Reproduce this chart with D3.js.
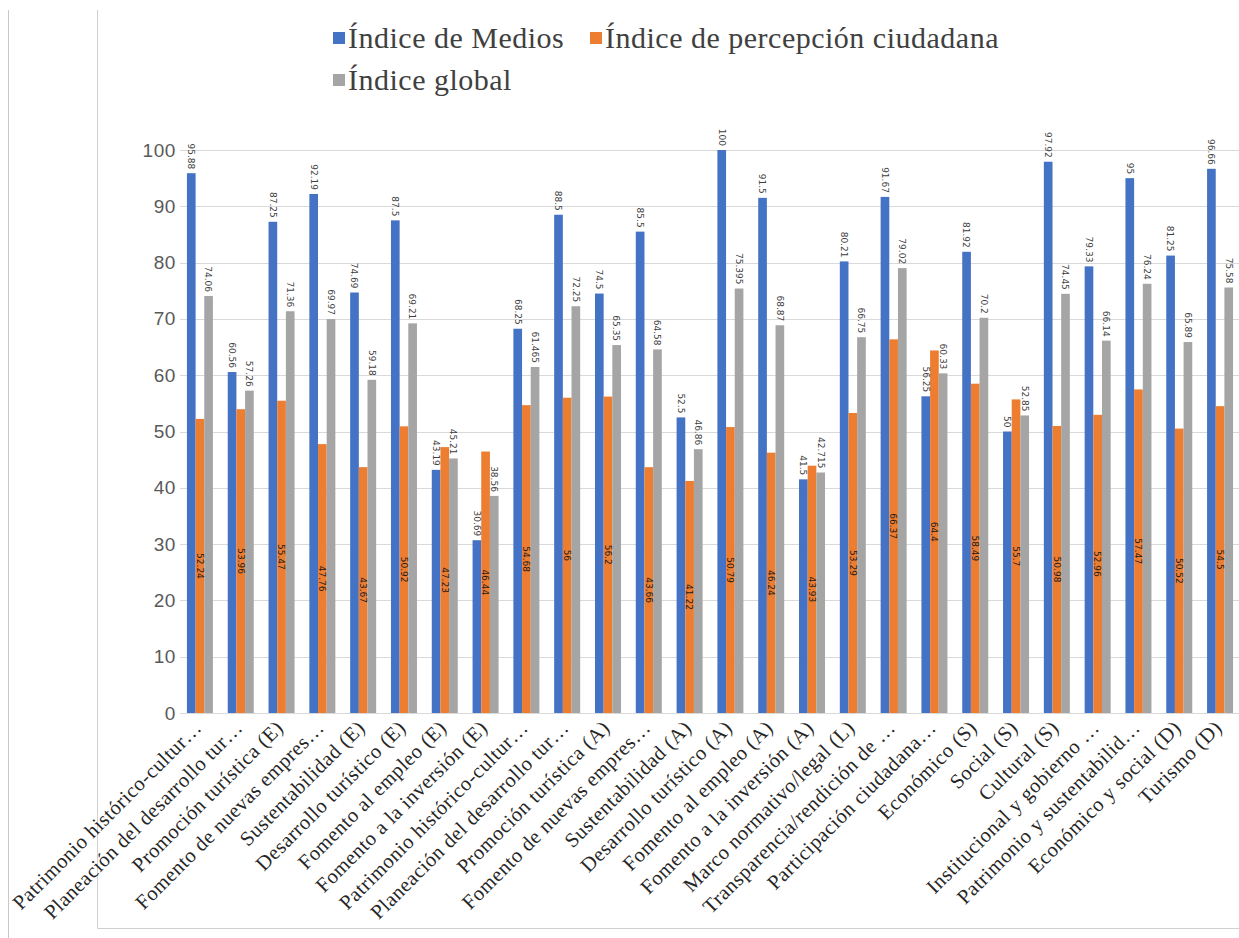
<!doctype html>
<head>
  <meta charset="utf-8">
  <script src="https://cdnjs.cloudflare.com/ajax/libs/d3/7.8.2/d3.min.js"></script>
</head>
<style>
    body { margin: 0; background: #ffffff; }
    svg { display: block; }
</style>
<body>
    <div id="chart"></div>
    <script>
        // Datos
        const categorias = [
            "Patrimonio histórico-cultur…", "Planeación del desarrollo tur…", "Promoción turística (E)",
            "Fomento de nuevas empres…", "Sustentabilidad (E)", "Desarrollo turístico (E)",
            "Fomento al empleo (E)", "Fomento a la inversión (E)", "Patrimonio histórico-cultur…",
            "Planeación del desarrollo tur…", "Promoción turística (A)", "Fomento de nuevas empres…",
            "Sustentabilidad (A)", "Desarrollo turístico (A)", "Fomento al empleo (A)",
            "Fomento a la inversión (A)", "Marco normativo/legal (L)", "Transparencia/rendición de …",
            "Participación ciudadana…", "Económico (S)", "Social (S)", "Cultural (S)",
            "Institucional y gobierno …", "Patrimonio y sustentabilid…", "Económico y social (D)", "Turismo (D)"
        ];
        const indiceMedios = [95.88, 60.56, 87.25, 92.19, 74.69, 87.5, 43.19, 30.69, 68.25, 88.5, 74.5, 85.5, 52.5,
            100, 91.5, 41.5, 80.21, 91.67, 56.25, 81.92, 50, 97.92, 79.33, 95, 81.25, 96.66];
        const indicePercepcion = [52.24, 53.96, 55.47, 47.76, 43.67, 50.92, 47.23, 46.44, 54.68, 56, 56.2, 43.66, 41.22,
            50.79, 46.24, 43.93, 53.29, 66.37, 64.4, 58.49, 55.7, 50.98, 52.96, 57.47, 50.52, 54.5];
        const indiceGlobal = [74.06, 57.26, 71.36, 69.97, 59.18, 69.21, 45.21, 38.56, 61.465, 72.25, 65.35, 64.58, 46.86,
            75.395, 68.87, 42.715, 66.75, 79.02, 60.33, 70.2, 52.85, 74.45, 66.14, 76.24, 65.89, 75.58];
        const series = ["Índice de Medios", "Índice de percepción ciudadana", "Índice global"];
        const colores = ["#4472c4", "#ed7d31", "#a5a5a5"];
        const ticksY = [0, 10, 20, 30, 40, 50, 60, 70, 80, 90, 100];

        const width = 1239, height = 938;
        const valores = [indiceMedios, indicePercepcion, indiceGlobal];
        const datos = categorias.map((c, i) => ({ i, cat: c, vals: valores.map(v => v[i]) }));

        const svg = d3.select('#chart').append('svg')
            .attr('width', width)
            .attr('height', height);

        // marco de la tabla
        svg.append('line').attr('x1', 8.5).attr('x2', 8.5).attr('y1', 10).attr('y2', height)
            .attr('stroke', '#c8c8c8');
        svg.append('line').attr('x1', 97.5).attr('x2', 97.5).attr('y1', 10).attr('y2', 928.5)
            .attr('stroke', '#d0d0d0');
        svg.append('line').attr('x1', 97.5).attr('x2', width).attr('y1', 928.5).attr('y2', 928.5)
            .attr('stroke', '#d0d0d0');

        const y = d3.scaleLinear().domain([0, 100]).range([713, 150]);
        const x = d3.scaleBand().domain(d3.range(categorias.length))
            .range([180, 1240]).paddingInner(0.363).paddingOuter(0.17);
        const xs = d3.scaleBand().domain(d3.range(series.length)).range([0, x.bandwidth()]);

        // rejilla
        svg.append('g').selectAll('line').data(ticksY).join('line')
            .attr('x1', 180).attr('x2', 1240)
            .attr('y1', d => Math.round(y(d)) + 0.5).attr('y2', d => Math.round(y(d)) + 0.5)
            .attr('stroke', '#d9d9d9').attr('stroke-width', 1.2);

        // eje y
        const ejeY = svg.append('g').attr('transform', 'translate(176,0)')
            .call(d3.axisLeft(y).tickValues(ticksY).tickSize(0).tickPadding(0));
        ejeY.select('.domain').remove();
        ejeY.selectAll('text')
            .attr('font-family', '"Liberation Sans", Arial, sans-serif')
            .attr('font-size', 19).attr('letter-spacing', 0.6).attr('fill', '#595959');

        // barras
        const grupos = svg.append('g').selectAll('g').data(datos).join('g')
            .attr('transform', d => `translate(${x(d.i)},0)`);

        grupos.selectAll('rect').data(d => d.vals.map((v, k) => ({ v, k }))).join('rect')
            .attr('x', d => xs(d.k))
            .attr('width', xs.bandwidth())
            .attr('y', d => y(d.v))
            .attr('height', d => y(0) - y(d.v))
            .attr('fill', d => colores[d.k]);

        // etiquetas de datos
        grupos.selectAll('text').data(d => d.vals.map((v, k) => ({ v, k }))).join('text')
            .attr('transform', d => {
                const cx = xs(d.k) + xs.bandwidth() / 2;
                const cy = d.k === 1 ? (y(d.v) + y(0)) / 2 : y(d.v) - 4;
                return `translate(${cx},${cy}) rotate(90)`;
            })
            .attr('text-anchor', d => d.k === 1 ? 'middle' : 'end')
            .attr('dy', '0.35em')
            .attr('font-family', '"DejaVu Sans", sans-serif')
            .attr('font-size', 9)
            .attr('fill', d => d.k === 1 ? '#1a1a1a' : '#404040')
            .text(d => d.v);

        // etiquetas de categoría
        svg.append('g').selectAll('text').data(datos).join('text')
            .attr('transform', d => `translate(${x(d.i) + x.bandwidth() / 2 + 3},${729}) rotate(-45)`)
            .attr('text-anchor', 'end')
            .attr('font-family', '"Liberation Serif", "Times New Roman", serif')
            .attr('font-size', 20.5)
            .attr('letter-spacing', 0.5)
            .attr('fill', '#262626')
            .text(d => d.cat);

        // leyenda
        const leyenda = [
            { k: 0, x: 333, y: 38 },
            { k: 1, x: 590, y: 38 },
            { k: 2, x: 333, y: 80 }
        ];
        const ley = svg.append('g').selectAll('g').data(leyenda).join('g')
            .attr('transform', d => `translate(${d.x},${d.y})`);
        ley.append('rect').attr('x', 0).attr('y', -6).attr('width', 12).attr('height', 12)
            .attr('fill', d => colores[d.k]);
        ley.append('text').attr('x', 15).attr('y', 10)
            .attr('font-family', '"Liberation Serif", "Times New Roman", serif')
            .attr('font-size', 30)
            .attr('letter-spacing', 0.5)
            .attr('fill', '#404040')
            .text(d => series[d.k]);
    </script>
</body>
